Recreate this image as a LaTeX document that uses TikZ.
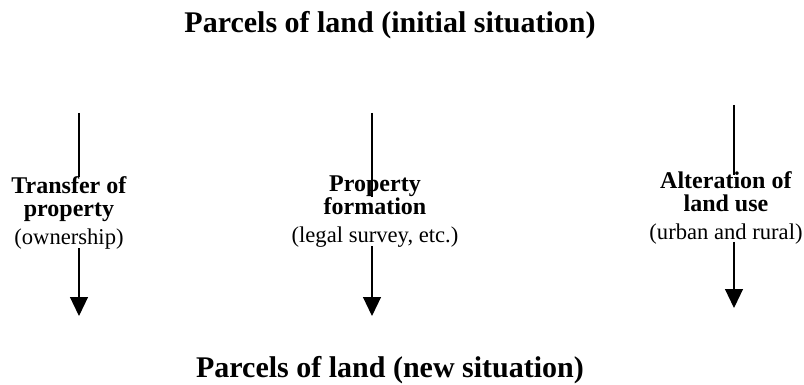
\documentclass[tikz,border=0pt]{standalone}
\usepackage{fontspec}
\setmainfont{Liberation Serif}
\usetikzlibrary{arrows.meta}
\begin{document}
\begin{tikzpicture}[x=0.5pt,y=-0.5pt,
  titletext/.style={font=\fontsize{15}{18}\selectfont\bfseries, inner sep=0pt, anchor=base},
  labeltext/.style={font=\fontsize{12}{11.5}\selectfont, align=center, inner sep=0pt, anchor=north},
  stem/.style={line width=0.6pt},
  downarrow/.style={line width=0.6pt, -{Triangle[width=9pt,length=9.5pt]}}]
\useasboundingbox (0,0) rectangle (804,385);
\node[titletext] (top) at (390,33) {Parcels of land (initial situation)};
\node[titletext] (bottom) at (390,377) {Parcels of land (new situation)};
\coordinate (a1s) at (79,113);
\coordinate (a1e) at (79,177);
\coordinate (a1b) at (79,248);
\coordinate (a1t) at (79,316);
\coordinate (a2s) at (372,113);
\coordinate (a2e) at (372,197);
\coordinate (a2b) at (372,246);
\coordinate (a2t) at (372,316);
\coordinate (a3s) at (734,105);
\coordinate (a3e) at (734,175);
\coordinate (a3b) at (734,242);
\coordinate (a3t) at (734,308);
\node[labeltext] (l1) at (69,176) {\textbf{Transfer of}\\\textbf{property}\\[2.5pt]{\fontsize{11.3}{11.5}\selectfont (ownership)}};
\node[labeltext] (l2) at (375,175) {\textbf{Property}\\\textbf{formation}\\[2.5pt]{\fontsize{11.3}{11.5}\selectfont (legal survey, etc.)}};
\node[labeltext] (l3) at (726,171) {\textbf{Alteration of}\\\textbf{land use}\\[2.5pt]{\fontsize{11.3}{11.5}\selectfont (urban and rural)}};
\draw[stem] (a1s) -- (a1e);
\draw[downarrow] (a1b) -- (a1t);
\draw[stem] (a2s) -- (a2e);
\draw[downarrow] (a2b) -- (a2t);
\draw[stem] (a3s) -- (a3e);
\draw[downarrow] (a3b) -- (a3t);
\end{tikzpicture}
\end{document}
